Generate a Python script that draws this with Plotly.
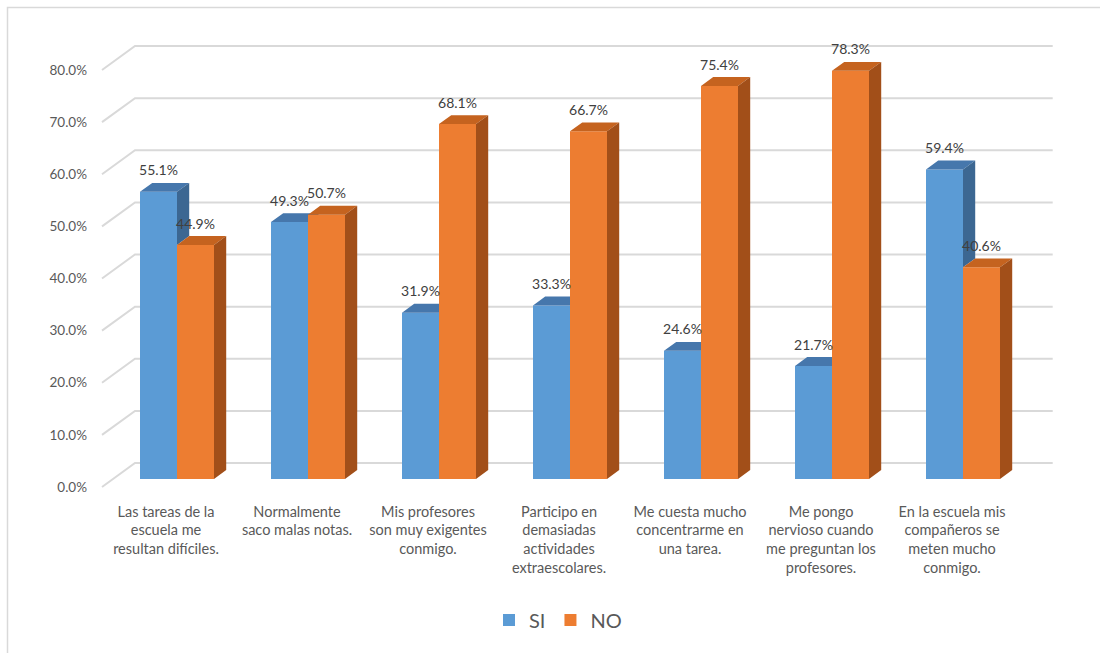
import plotly.graph_objects as go

# ---------------- data ----------------
categories = [
    "Las tareas de la<br>escuela me<br>resultan difíciles.",
    "Normalmente<br>saco malas notas.",
    "Mis profesores<br>son muy exigentes<br>conmigo.",
    "Participo en<br>demasiadas<br>actividades<br>extraescolares.",
    "Me cuesta mucho<br>concentrarme en<br>una tarea.",
    "Me pongo<br>nervioso cuando<br>me preguntan los<br>profesores.",
    "En la escuela mis<br>compañeros se<br>meten mucho<br>conmigo.",
]
si_values = [55.1, 49.3, 31.9, 33.3, 24.6, 21.7, 59.4]
no_values = [44.9, 50.7, 68.1, 66.7, 75.4, 78.3, 40.6]
y_ticks = [0, 10, 20, 30, 40, 50, 60, 70, 80]
y_tick_labels = [f"{v:.1f}%" for v in y_ticks]
series_names = ["SI", "NO"]

# ---------------- geometry / style (pseudo 3D) ----------------
PX_PER_CAT = 131.0
PX_PER_PCT = 5.2125
L, R, T, B = 100, 1060, 20, 500
W, H = 1100, 653
x0 = -(166 - L) / PX_PER_CAT
x1 = x0 + (R - L) / PX_PER_CAT
y0 = -(B - 487) / PX_PER_PCT
y1 = y0 + (B - T) / PX_PER_PCT

DX = 33 / PX_PER_CAT      # full depth offset along x (data units)
DY = 24 / PX_PER_PCT      # full depth offset along y (data units)
F_FRONT = 1 / 3           # depth of bar front face
F_DEPTH = 0.37            # bar depth
BW = 37 / PX_PER_CAT      # bar width
X_WALL_FRONT = (102 - 166) / PX_PER_CAT
X_WALL_END = (1052.7 - 166) / PX_PER_CAT

ox, b0 = F_FRONT * DX, F_FRONT * DY
ddx, ddy = F_DEPTH * DX, F_DEPTH * DY

font = "Lato"
txt_col = "#595959"
colors = {
    "SI": ("#5B9BD5", "#4677AC", "#3C6792"),
    "NO": ("#ED7D31", "#C5631F", "#A24F19"),
}

fig = go.Figure()

# gridlines (left diagonal + back wall) on base axes
gx, gy = [], []
for v in y_ticks:
    gx += [X_WALL_FRONT, X_WALL_FRONT + DX, X_WALL_END, None]
    gy += [v, v + DY, v + DY, None]
fig.add_trace(go.Scatter(x=gx, y=gy, mode="lines", line=dict(color="#D9D9D9", width=2),
                         hoverinfo="skip", showlegend=False, xaxis="x", yaxis="y"))

def add_series(name, vals, shift, xa, ya, other=None):
    front, top, side = colors[name]
    xc = [i + shift * BW / 2 + ox for i in range(len(vals))]
    fig.add_trace(go.Bar(x=xc, y=vals, base=[b0] * len(vals), width=[BW] * len(vals),
                         marker=dict(color=front, line=dict(width=0)), name=name,
                         xaxis=xa, yaxis=ya, showlegend=True, hoverinfo="skip"))
    tx, ty, sx, sy = [], [], [], []
    for i, v in enumerate(vals):
        xl, xr = xc[i] - BW / 2, xc[i] + BW / 2
        yt = b0 + v
        tx += [xl, xr, xr + ddx, xl + ddx, xl, None]
        ty += [yt, yt, yt + ddy, yt + ddy, yt, None]
        yb = b0
        if other is not None:
            yb = max(b0, b0 + other[i])
        if yb < yt:
            sx += [xr, xr, xr + ddx, xr + ddx, xr, None]
            sy += [yb, yt, yt + ddy, yb + ddy, yb, None]
    fig.add_trace(go.Scatter(x=tx, y=ty, mode="lines", fill="toself", fillcolor=top,
                             line=dict(width=0, color=top), hoverinfo="skip",
                             showlegend=False, xaxis=xa, yaxis=ya))
    fig.add_trace(go.Scatter(x=sx, y=sy, mode="lines", fill="toself", fillcolor=side,
                             line=dict(width=0, color=side), hoverinfo="skip",
                             showlegend=False, xaxis=xa, yaxis=ya))
    return xc

xc_si = add_series("SI", si_values, -1, "x2", "y2", other=no_values)
xc_no = add_series("NO", no_values, 1, "x3", "y3")

# data labels (top layer)
LBL = 11 / PX_PER_PCT
lx = xc_si + xc_no
ly = [b0 + v + ddy + LBL for v in si_values] + [b0 + v + ddy + LBL for v in no_values]
lt = [f"{v:.1f}%" for v in si_values] + [f"{v:.1f}%" for v in no_values]
fig.add_trace(go.Scatter(x=lx, y=ly, text=lt, mode="text", textposition="middle center",
                         textfont=dict(family=font, size=14, color="#404040"),
                         hoverinfo="skip", showlegend=False, xaxis="x3", yaxis="y3"))

hidden = dict(range=[x0, x1], visible=False, fixedrange=True)
fig.update_layout(
    width=W, height=H,
    margin=dict(l=L, r=W - R, t=T, b=H - B),
    paper_bgcolor="white", plot_bgcolor="white",
    font=dict(family=font, color=txt_col),
    xaxis=dict(range=[x0, x1], tickvals=list(range(len(categories))), ticktext=categories,
               showgrid=False, zeroline=False, showline=False, ticks="",
               tickfont=dict(family=font, size=14.5, color=txt_col), ticklabelstandoff=1),
    yaxis=dict(range=[y0, y1], tickvals=y_ticks, ticktext=y_tick_labels,
               showgrid=False, zeroline=False, showline=False, ticks="",
               tickfont=dict(family=font, size=13.5, color=txt_col), ticklabelstandoff=12),
    xaxis2=dict(hidden, overlaying="x"),
    yaxis2=dict(range=[y0, y1], visible=False, overlaying="y"),
    xaxis3=dict(hidden, overlaying="x"),
    yaxis3=dict(range=[y0, y1], visible=False, overlaying="y"),
    legend=dict(orientation="h", x=(558 - L) / (R - L), xanchor="center",
                y=(B - 620) / (B - T), yanchor="middle",
                font=dict(family=font, size=20, color=txt_col), itemwidth=30),
    shapes=[dict(type="rect", xref="paper", yref="paper",
                 x0=(7.5 - L) / (R - L), x1=(1110 - L) / (R - L),
                 y0=(B - 665) / (B - T), y1=(B - 7.5) / (B - T),
                 line=dict(color="#D9D9D9", width=1.5), fillcolor="rgba(0,0,0,0)")],
)

fig.write_html("out.html")
